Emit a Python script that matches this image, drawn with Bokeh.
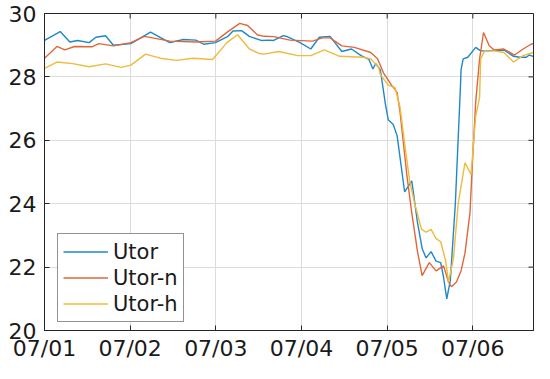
import math
from bokeh.plotting import figure
from bokeh.models import Range1d, FixedTicker, Legend, LegendItem
from bokeh.embed import file_html
from bokeh.resources import INLINE

# time in hours since 07/01 00:00
utor_t = [0, 4.4, 7.1, 9.3, 12.5, 14.4, 17.1, 19.3, 24.2, 29.7, 35.1, 38.9, 42.4, 44.6, 47.9,
          51.4, 52.8, 55.2, 57.4, 60.7, 62.9, 64.2, 66.9, 67.8, 71.6, 74.6, 77.0, 80.0, 83.3,
          86.0, 88.7, 90.9, 92.0, 92.8, 94.1, 95.5, 96.3, 97.7, 98.8, 100.9, 102.9, 104.5,
          105.8, 106.9, 108.3, 109.7, 111.0, 111.8, 112.7, 113.7, 115.1, 116.5, 116.7, 117.3,
          118.6, 120.8, 122.2, 124.1, 126.8, 128.7, 131.4, 133.1, 135.0, 135.8, 136.9]
utor_v = [29.15, 29.43, 29.10, 29.15, 29.08, 29.25, 29.30, 29.00, 29.05, 29.41, 29.08, 29.18, 29.16, 29.03, 29.08,
          29.28, 29.45, 29.46, 29.28, 29.15, 29.16, 29.15, 29.30, 29.28, 29.08, 28.88, 29.25, 29.28, 28.80,
          28.88, 28.67, 28.55, 28.25, 28.42, 28.22, 27.15, 26.65, 26.50, 26.14, 24.37, 24.72, 23.40,
          22.59, 22.29, 22.49, 22.19, 22.14, 21.68, 21.00, 21.58, 24.00, 27.60, 28.22, 28.57,
          28.62, 28.93, 28.82, 28.82, 28.84, 28.85, 28.65, 28.62, 28.62, 28.69, 28.65]

utorn_t = [0, 3.5, 5.7, 8.4, 13.3, 15.2, 19.3, 24.2, 28.0, 35.1, 42.4, 47.9, 51.4, 54.7, 56.9,
           59.6, 61.5, 64.2, 68.8, 75.1, 77.8, 80.0, 83.3, 86.8, 91.4, 93.3, 95.0, 97.4, 98.2,
           98.8, 99.6, 101.5, 102.9, 104.5, 105.8, 107.8, 109.7, 111.8, 113.2, 114.0, 115.4,
           116.7, 117.8, 119.2, 120.0, 120.8, 121.9, 123.0, 124.6, 126.0, 128.7, 131.7, 134.1,
           136.3, 136.9]
utorn_v = [28.59, 28.96, 28.85, 28.96, 28.95, 29.05, 28.98, 29.08, 29.28, 29.13, 29.10, 29.13, 29.43, 29.69, 29.62,
           29.33, 29.28, 29.27, 29.16, 29.13, 29.23, 29.23, 28.98, 28.93, 28.77, 28.57, 28.12, 27.71, 27.61,
           27.50, 26.90, 24.92, 23.71, 22.49, 21.73, 22.14, 21.88, 22.04, 21.53, 21.38, 21.53,
           21.88, 22.44, 23.71, 25.53, 27.20, 28.57, 29.40, 28.98, 28.85, 28.88, 28.69, 28.88,
           29.03, 29.05]

utorh_t = [0, 3.5, 7.9, 12.5, 17.1, 21.5, 24.2, 28.3, 32.4, 37.0, 41.6, 47.1, 51.1, 54.1, 57.4,
           60.1, 61.5, 65.6, 71.0, 74.6, 78.4, 82.7, 89.3, 91.4, 93.6, 94.1, 96.3, 98.2, 99.6,
           100.9, 102.3, 103.7, 105.6, 106.9, 108.3, 109.7, 111.0, 112.4, 113.2, 114.6, 115.9,
           117.8, 119.5, 120.8, 121.9, 122.2, 123.3, 126.0, 128.7, 131.4, 134.1, 136.9]
utorh_v = [28.27, 28.47, 28.42, 28.32, 28.41, 28.30, 28.37, 28.72, 28.59, 28.52, 28.59, 28.55, 29.08, 29.33, 28.88,
           28.74, 28.72, 28.80, 28.67, 28.67, 28.85, 28.65, 28.62, 28.57, 28.30, 28.07, 27.74, 27.66, 27.05,
           25.90, 24.72, 24.01, 23.20, 23.10, 23.19, 22.90, 22.80, 22.19, 21.53, 22.29, 24.00,
           25.29, 24.92, 26.75, 27.36, 28.57, 28.82, 28.82, 28.77, 28.47, 28.67, 28.77]

x_ticks = [0, 24, 48, 72, 96, 120]
x_labels = ["07/01", "07/02", "07/03", "07/04", "07/05", "07/06"]
y_ticks = [20, 22, 24, 26, 28, 30]
x_end = 137

series_names = ["Utor", "Utor-n", "Utor-h"]
series_colors = ["#1f88c8", "#e0673a", "#eebb3c"]

FONT = "DejaVu Sans"
AXC = "#262626"

p = figure(width=534, height=363, output_backend="svg", toolbar_location=None,
           x_range=Range1d(0, x_end), y_range=Range1d(20, 30),
           min_border_left=44, min_border_right=1, min_border_top=13, min_border_bottom=28)
p.background_fill_color = "white"
p.border_fill_color = "white"
p.outline_line_color = AXC
p.outline_line_width = 1

p.xaxis.ticker = FixedTicker(ticks=x_ticks)
p.xaxis.major_label_overrides = {t: l for t, l in zip(x_ticks, x_labels)}
p.yaxis.ticker = FixedTicker(ticks=y_ticks)
for ax in (p.xaxis[0], p.yaxis[0]):
    ax.major_label_text_font = FONT
    ax.major_label_text_font_size = "22px"
    ax.major_label_text_color = "#1a1a1a"
    ax.major_label_text_line_height = 1.0
    ax.axis_line_color = AXC
    ax.major_tick_line_color = AXC
    ax.major_tick_in = 5
    ax.major_tick_out = 0
    ax.minor_tick_line_color = None
p.xaxis.major_label_standoff = 5
p.yaxis.major_label_standoff = 8

p.xgrid.ticker = FixedTicker(ticks=x_ticks)
p.ygrid.ticker = FixedTicker(ticks=y_ticks)
p.grid.grid_line_color = "#dcdcdc"
p.grid.grid_line_width = 1

# box ticks on top and right edges (half of each dash is clipped by the frame)
p.scatter(x_ticks, [30] * len(x_ticks), marker="dash", size=10, angle=math.pi / 2,
          line_color=AXC, line_width=1)
p.scatter([x_end] * len(y_ticks), y_ticks, marker="dash", size=10,
          line_color=AXC, line_width=1)

renderers = []
for t, v, c in zip([utor_t, utorn_t, utorh_t], [utor_v, utorn_v, utorh_v], series_colors):
    r = p.line(t, v, line_color=c, line_width=1.4)
    renderers.append(r)

legend = Legend(items=[LegendItem(label=n, renderers=[r]) for n, r in zip(series_names, renderers)],
                location=(13, 8))
legend.label_text_font = FONT
legend.label_text_font_size = "21px"
legend.label_text_color = "#1a1a1a"
legend.glyph_width = 45
legend.glyph_height = 25
legend.label_height = 25
legend.label_standoff = 5
legend.spacing = 1
legend.padding = 5
legend.margin = 0
legend.border_line_color = AXC
legend.border_line_width = 1
legend.background_fill_color = "white"
legend.background_fill_alpha = 1
p.add_layout(legend, "center")

open("out.html", "w").write(file_html(p, INLINE))
